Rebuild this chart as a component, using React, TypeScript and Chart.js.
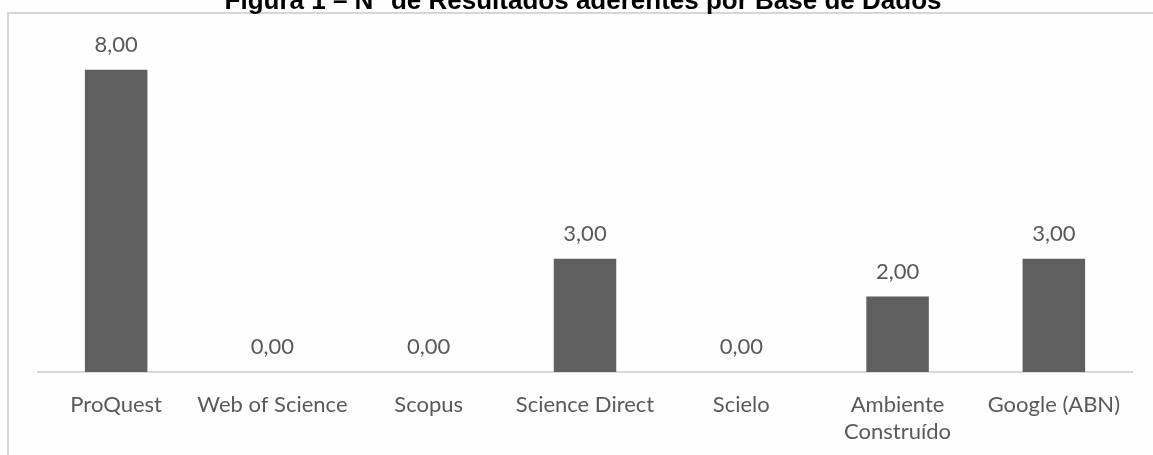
import React, { useEffect, useRef } from "react";
import { Chart, registerables } from "chart.js";

Chart.register(...registerables);

const titleText = "Figura 1 – N° de Resultados aderentes por Base de Dados";
const categories: (string | string[])[] = [
  "ProQuest",
  "Web of Science",
  "Scopus",
  "Science Direct",
  "Scielo",
  ["Ambiente", "Construído"],
  "Google (ABN)",
];
const values: number[] = [8, 0, 0, 3, 0, 2, 3];

const TEXT_COLOR = "#595959";
const BAR_COLOR = "#5f5f5f";
const FRAME_COLOR = "#d6d6d6";
const FONT_FAMILY = "Lato, 'Noto Sans', sans-serif";

const framePlugin = {
  id: "frameAndTitle",
  beforeDraw(chart: any) {
    const { ctx, width, height } = chart;
    ctx.save();
    ctx.fillStyle = "#fefefe";
    ctx.fillRect(0, 0, width, height);
    ctx.fillStyle = FRAME_COLOR;
    ctx.fillRect(7, 12, width - 7, 2);
    ctx.fillRect(7, 12, 2, height - 12);
    ctx.fillStyle = "#000000";
    ctx.font = "bold 26px 'Liberation Sans', Arial, sans-serif";
    ctx.textAlign = "center";
    ctx.textBaseline = "alphabetic";
    ctx.fillText(titleText, 583, 9);
    ctx.restore();
  },
};

const valueLabelPlugin = {
  id: "valueLabels",
  afterDatasetsDraw(chart: any) {
    const { ctx } = chart;
    const meta = chart.getDatasetMeta(0);
    const data = chart.data.datasets[0].data as number[];
    ctx.save();
    ctx.fillStyle = TEXT_COLOR;
    ctx.font = `22px ${FONT_FAMILY}`;
    ctx.textAlign = "center";
    ctx.textBaseline = "middle";
    meta.data.forEach((bar: any, i: number) => {
      const label = data[i].toFixed(2).replace(".", ",");
      ctx.fillText(label, bar.x, bar.y - 25);
    });
    ctx.restore();
  },
};

export default function App() {
  const ref = useRef<HTMLCanvasElement | null>(null);
  useEffect(() => {
    if (!ref.current) return;
    const chart = new Chart(ref.current, {
      type: "bar",
      data: {
        labels: categories,
        datasets: [
          {
            data: values,
            backgroundColor: BAR_COLOR,
            borderWidth: 0,
            barPercentage: 0.4,
            categoryPercentage: 1,
          },
        ],
      },
      options: {
        animation: false,
        responsive: false,
        maintainAspectRatio: false,
        layout: { padding: { top: 32, left: 38, right: 21, bottom: 0 } },
        plugins: {
          legend: { display: false },
          tooltip: { enabled: false },
          title: { display: false },
        },
        scales: {
          x: {
            offset: true,
            grid: { display: false, drawTicks: false },
            border: { display: true, color: "#d9d9d9", width: 2 },
            ticks: {
              color: TEXT_COLOR,
              font: { family: FONT_FAMILY, size: 22, lineHeight: 1.23 },
              padding: 19,
              autoSkip: false,
              maxRotation: 0,
              minRotation: 0,
            },
            afterFit(scale: any) {
              scale.height = 83;
            },
          },
          y: {
            display: false,
            min: 0,
            max: 9,
          },
        },
      },
      plugins: [framePlugin, valueLabelPlugin],
    });
    return () => chart.destroy();
  }, []);
  return (
    <canvas
      ref={ref}
      width={1153}
      height={455}
      style={{ position: "absolute", left: 0, top: 0, width: 1153, height: 455 }}
    />
  );
}
